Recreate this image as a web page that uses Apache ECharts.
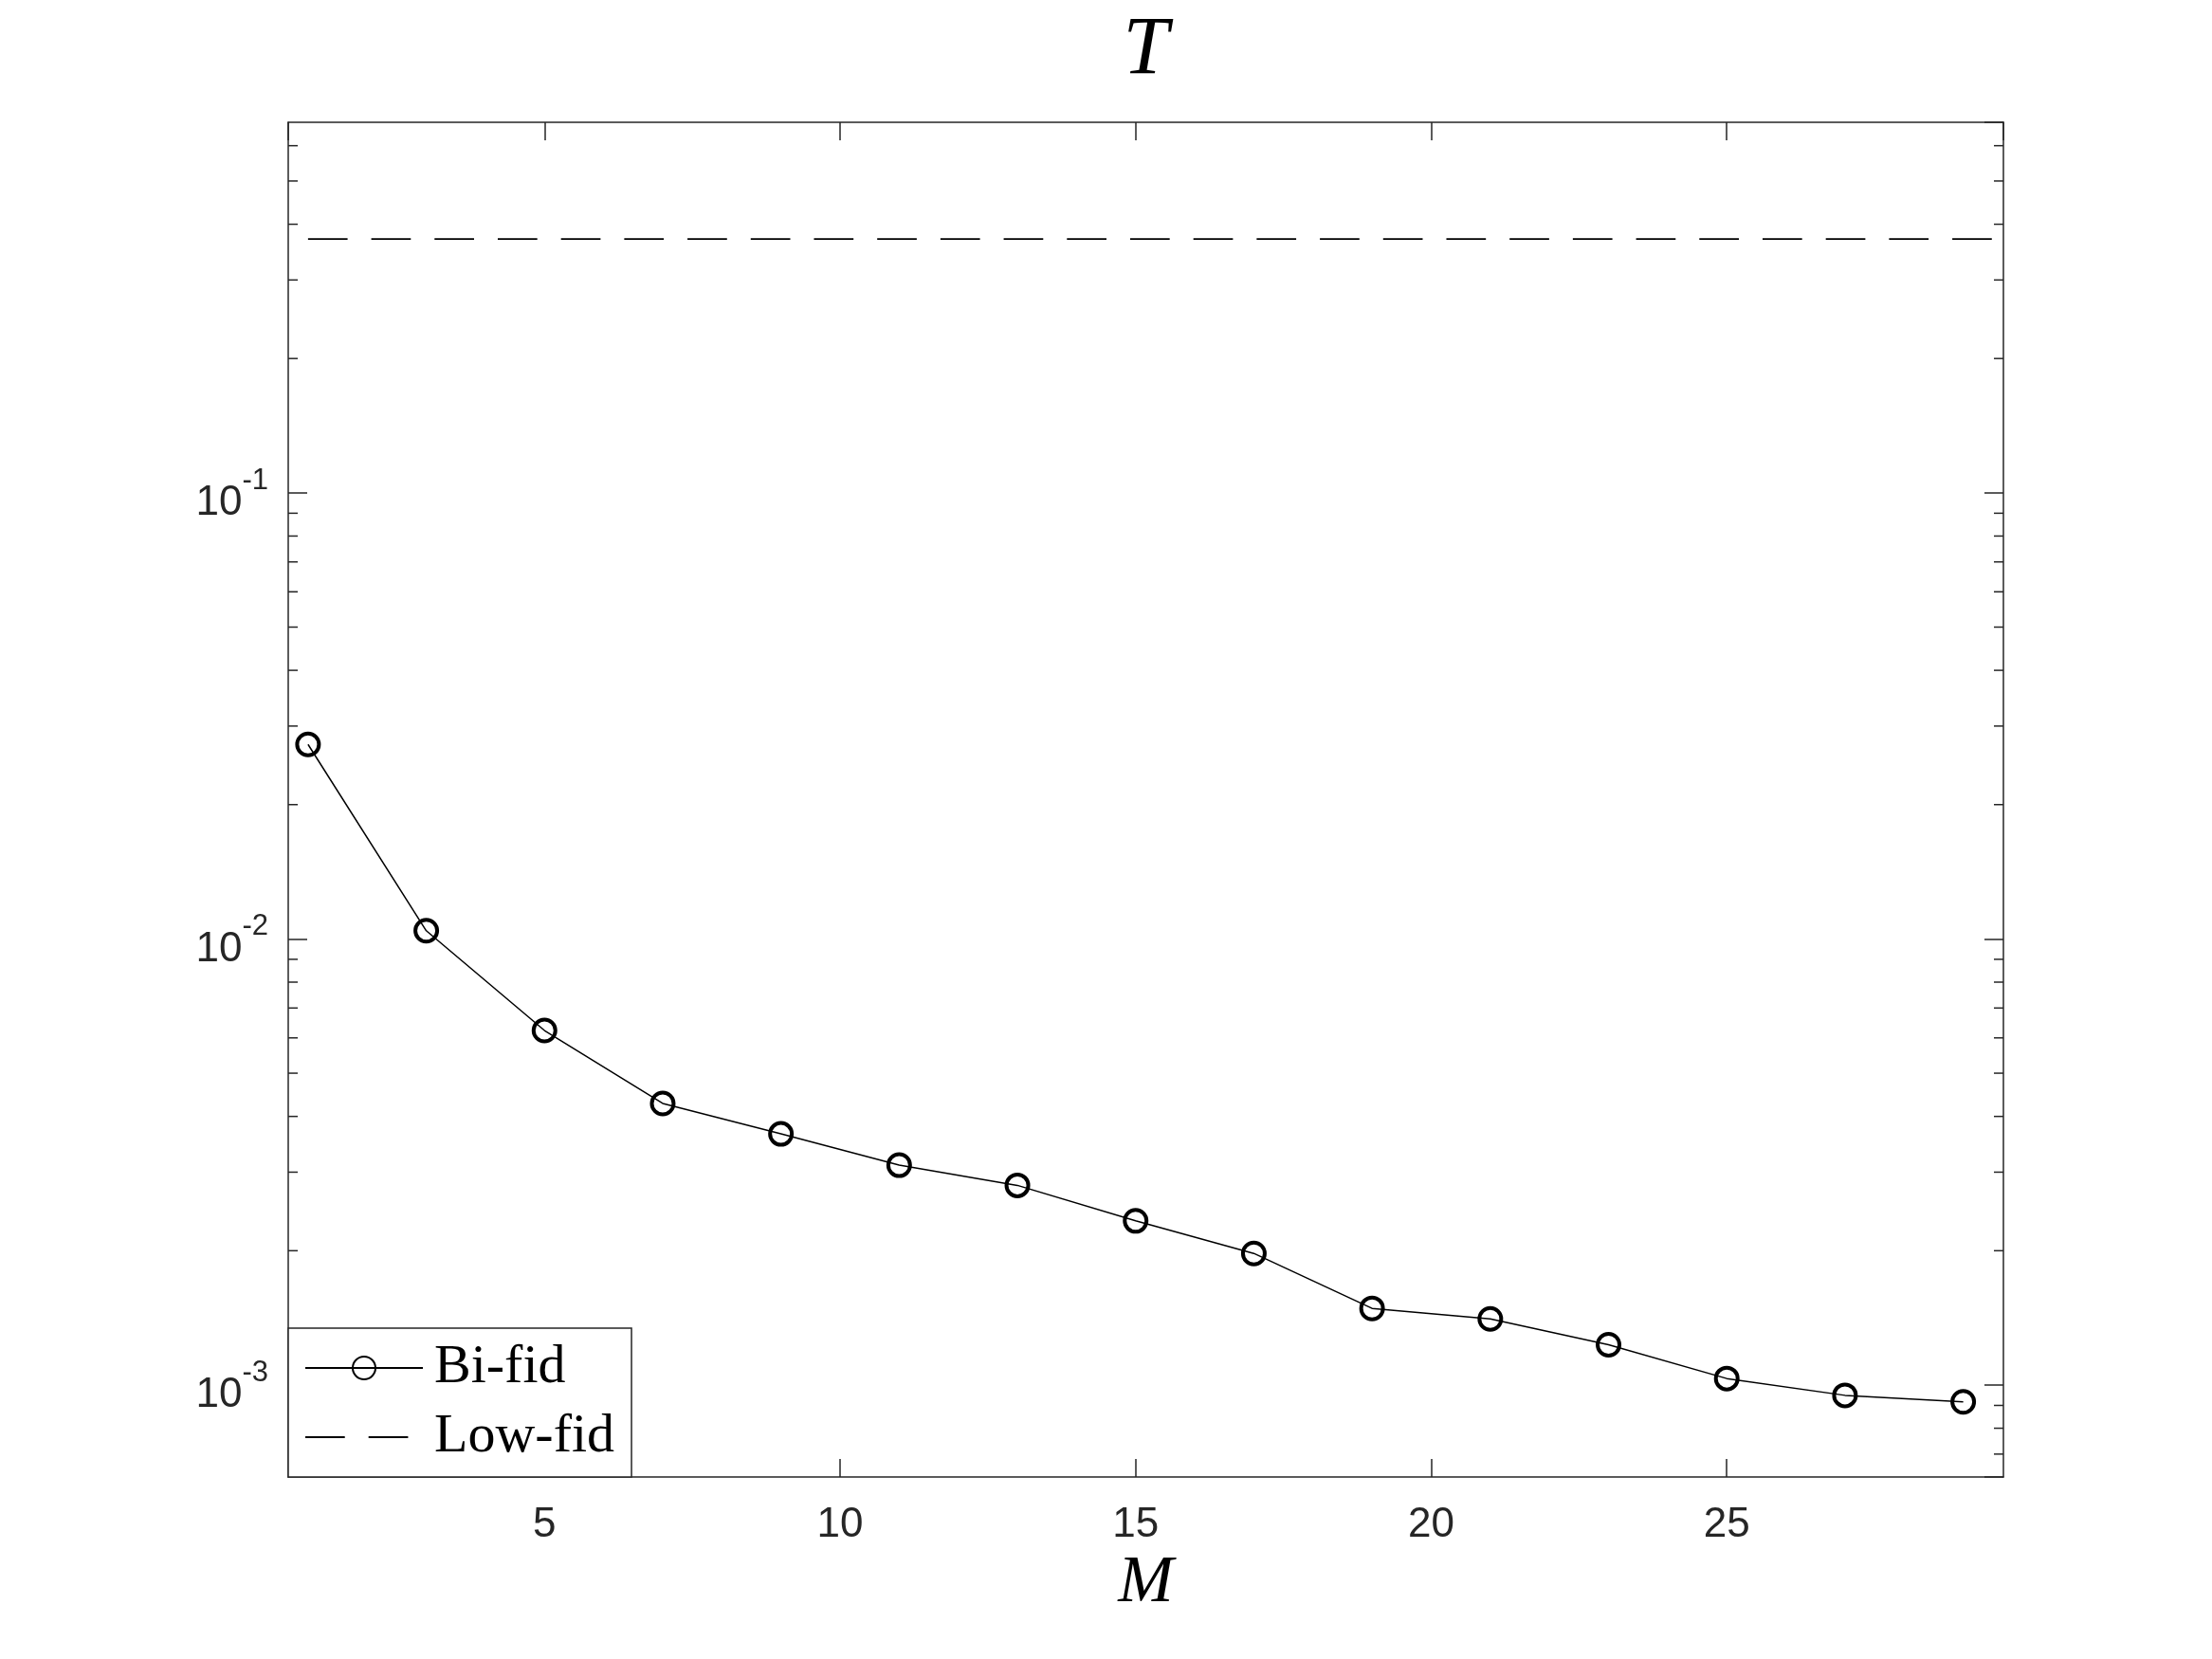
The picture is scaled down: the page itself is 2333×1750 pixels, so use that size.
<!DOCTYPE html>
<html>
<head>
<meta charset="utf-8">
<script src="https://cdn.jsdelivr.net/npm/echarts@6/dist/echarts.min.js"></script>
<style>
html,body{margin:0;padding:0;background:#fff;}
#chart{width:2333px;height:1750px;}
</style>
</head>
<body>
<div id="chart"></div>
<script>
// ---- data ----
const M = [1, 3, 5, 7, 9, 11, 13, 15, 17, 19, 21, 23, 25, 27, 29];
const biFid = [0.02729, 0.01043, 0.006232, 0.004277, 0.003655, 0.003110, 0.002802,
               0.002333, 0.001972, 0.001485, 0.001407, 0.001231, 0.001034, 0.000948, 0.000917];
const lowFidLevel = 0.3707;
const mLimits = [0.665, 29.68];
const tLimits = [6.22e-4, 0.677];
const seriesNames = ['Bi-fid', 'Low-fid'];
const titleText = 'T';
const xLabelText = 'M';

// minor log ticks (2..9 x 10^n) inside the y range
const minorTicks = [];
for (let n = -4; n <= 0; n++) {
  for (let k = 2; k <= 9; k++) {
    const v = k * Math.pow(10, n);
    if (v > tLimits[0] && v < tLimits[1]) minorTicks.push(v);
  }
}

const AX = '#262626';
const chart = echarts.init(document.getElementById('chart'), null, {renderer: 'canvas'});

const yLabel = {
  show: true,
  margin: 21,
  showMinLabel: false,
  showMaxLabel: false,
  padding: [5, 0, 0, 0],
  formatter: function (v) {
    return '{b|10}{s|' + Math.round(Math.log10(v)) + '}';
  },
  rich: {
    b: {fontSize: 44, fontFamily: 'Liberation Sans', color: AX, verticalAlign: 'bottom'},
    s: {fontSize: 31, fontFamily: 'Liberation Sans', color: AX, verticalAlign: 'bottom', padding: [0, 0, 30, 0]}
  }
};

const option = {
  animation: false,
  backgroundColor: '#fff',
  grid: {left: 304, right: 220, top: 129, bottom: 192, containLabel: false, outerBoundsMode: 'none'},
  xAxis: [
    {
      type: 'value', position: 'bottom', min: mLimits[0], max: mLimits[1], splitNumber: 6,
      name: xLabelText, nameLocation: 'middle', nameGap: 78,
      nameTextStyle: {fontFamily: 'Liberation Serif', fontStyle: 'italic', fontSize: 70, color: '#000'},
      axisLine: {show: true, onZero: false, lineStyle: {color: AX, width: 1.5}},
      axisTick: {show: true, inside: true, length: 19, lineStyle: {color: AX, width: 1.5}},
      axisLabel: {show: true, margin: 29, fontSize: 44, fontFamily: 'Liberation Sans', color: AX,
                  showMinLabel: false, showMaxLabel: false},
      splitLine: {show: false}
    },
    {
      type: 'value', position: 'top', min: mLimits[0], max: mLimits[1], splitNumber: 6,
      name: titleText, nameLocation: 'middle', nameGap: 32,
      nameTextStyle: {fontFamily: 'Liberation Serif', fontStyle: 'italic', fontSize: 86, color: '#000'},
      axisLine: {show: true, onZero: false, lineStyle: {color: AX, width: 1.5}},
      axisTick: {show: true, inside: true, length: 19, lineStyle: {color: AX, width: 1.5}},
      axisLabel: {show: false},
      splitLine: {show: false}
    }
  ],
  yAxis: [
    {
      type: 'log', logBase: 10, position: 'left', min: tLimits[0], max: tLimits[1],
      axisLine: {show: true, onZero: false, lineStyle: {color: AX, width: 1.5}},
      axisTick: {show: true, inside: true, length: 20, lineStyle: {color: AX, width: 1.5}},
      axisLabel: yLabel,
      splitLine: {show: false}
    },
    {
      type: 'log', logBase: 10, position: 'right', min: tLimits[0], max: tLimits[1],
      axisLine: {show: true, onZero: false, lineStyle: {color: AX, width: 1.5}},
      axisTick: {show: true, inside: true, length: 20, lineStyle: {color: AX, width: 1.5}},
      axisLabel: {show: false},
      splitLine: {show: false}
    }
  ],
  legend: {
    data: [
      {name: seriesNames[0]},
      {name: seriesNames[1], itemStyle: {opacity: 0}}
    ],
    orient: 'vertical',
    left: 304,
    bottom: 192,
    padding: [13, 18, 13, 17],
    itemGap: 15,
    itemWidth: 124,
    itemHeight: 30,
    backgroundColor: '#fff',
    borderColor: AX,
    borderWidth: 1.5,
    borderRadius: 0,
    textStyle: {fontFamily: 'Liberation Serif', fontSize: 58, color: '#000', lineHeight: 56, padding: [0, 0, 0, 7]},
    selectedMode: false
  },
  series: [
    {
      name: seriesNames[0],
      type: 'line',
      xAxisIndex: 0, yAxisIndex: 0,
      data: M.map((m, i) => [m, biFid[i]]),
      symbol: 'circle',
      symbolSize: 23,
      showAllSymbol: true,
      itemStyle: {color: 'rgba(0,0,0,0)', borderColor: '#000', borderWidth: 4},
      lineStyle: {color: '#000', width: 1.5},
      z: 3
    },
    {
      name: seriesNames[1],
      type: 'line',
      xAxisIndex: 0, yAxisIndex: 0,
      data: [[1, lowFidLevel], [mLimits[1], lowFidLevel]],
      symbol: 'none',
      itemStyle: {color: '#000'},
      lineStyle: {color: '#000', width: 1.8, type: [41.7, 25]},
      z: 2
    },
    {
      name: 'minorTicks',
      type: 'custom',
      xAxisIndex: 0, yAxisIndex: 0,
      silent: true,
      clip: false,
      data: minorTicks.map(v => [mLimits[0], v]),
      renderItem: function (params, api) {
        const cs = params.coordSys;
        const y = api.coord([mLimits[0], api.value(1)])[1];
        const st = {stroke: AX, lineWidth: 1.5};
        return {
          type: 'group',
          children: [
            {type: 'line', shape: {x1: cs.x, y1: y, x2: cs.x + 10, y2: y}, style: st},
            {type: 'line', shape: {x1: cs.x + cs.width, y1: y, x2: cs.x + cs.width - 10, y2: y}, style: st}
          ]
        };
      },
      z: 1
    }
  ]
};
chart.setOption(option);
</script>
</body>
</html>
